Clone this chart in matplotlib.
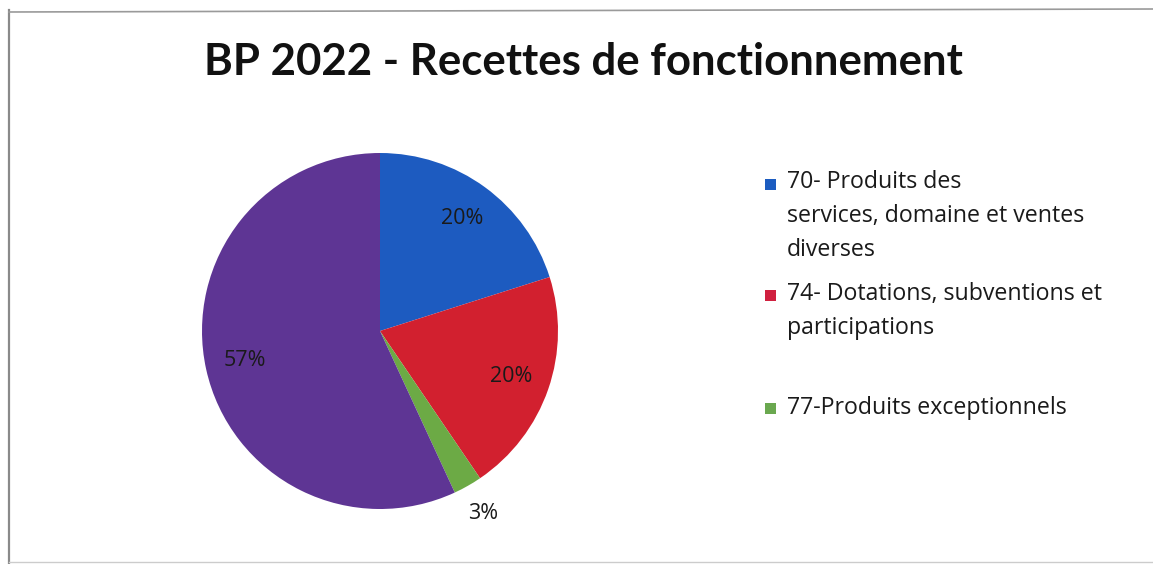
import matplotlib
matplotlib.use("Agg")
import matplotlib.pyplot as plt
from matplotlib.patches import Rectangle
from matplotlib.lines import Line2D
import numpy as np

title = "BP 2022 - Recettes de fonctionnement"
categories = ["70- Produits des\nservices, domaine et ventes\ndiverses",
              "74- Dotations, subventions et\nparticipations",
              "77-Produits exceptionnels",
              "Autres"]
values = [20.1, 20.4, 2.6, 56.9]
colors = ["#1D5BC0", "#D2202F", "#6CAA45", "#5E3594"]
legend_colors = ["#1C5CC0", "#D0203F", "#6AA84F"]

W, H = 1153, 564
fig = plt.figure(figsize=(W / 100, H / 100), dpi=100)
fig.patch.set_facecolor("white")

font = "Lato"
lfont = "Open Sans"

# frame lines (scan border)
fig.add_artist(Line2D([9 / W, 9 / W], [0, 1 - 10 / H], transform=fig.transFigure,
                      color="#8a8a8a", lw=1.6))
fig.add_artist(Line2D([9 / W, 1], [1 - 12 / H, 1 - 9 / H], transform=fig.transFigure,
                      color="#9a9a9a", lw=1.2))
fig.add_artist(Line2D([9 / W, 1], [1 - 562 / H, 1 - 562 / H], transform=fig.transFigure,
                      color="#cccccc", lw=1.0))

fig.text(583 / W, 1 - 62 / H, title, ha="center", va="center",
         fontsize=31.5, fontweight="bold", family=font, color="#111111")

# pie
cx, cy, r = 380, 331, 178
ax = fig.add_axes([(cx - r) / W, (H - cy - r) / H, 2 * r / W, 2 * r / H])
wedges, texts, autotexts = ax.pie(values, colors=colors, startangle=90, counterclock=False,
                                  autopct=lambda p: f"{p:.0f}%", pctdistance=0.78,
                                  wedgeprops=dict(linewidth=0),
                                  textprops=dict(family=lfont, fontsize=15.5, color="#1a1a1a"))
for w, t in zip(wedges, autotexts):
    frac = (w.theta2 - w.theta1) / 360
    if frac < 0.05:
        ang = np.deg2rad((w.theta1 + w.theta2) / 2)
        t.set_position((1.18 * np.cos(ang), 1.18 * np.sin(ang)))
ax.set_xlim(-1, 1)
ax.set_ylim(-1, 1)
ax.set_aspect("equal")
ax.axis("off")

# legend (manual, Excel-like even spacing)
line_h = 32
centers = [216, 311, 408]
x_marker, x_text = 765, 787
for lab, col, c in zip(categories[:3], legend_colors, centers):
    n = lab.count("\n") + 1
    top = c - (n - 1) * line_h / 2
    fig.text(x_text / W, 1 - c / H, lab, ha="left", va="center", fontsize=16.7,
             family=lfont, color="#1a1a1a", linespacing=1.54)
    fig.add_artist(Rectangle((x_marker / W, 1 - (top + 6) / H), 11 / W, 11 / H,
                             transform=fig.transFigure, facecolor=col, edgecolor="none"))

fig.savefig("out.png", dpi=100, facecolor="white")
